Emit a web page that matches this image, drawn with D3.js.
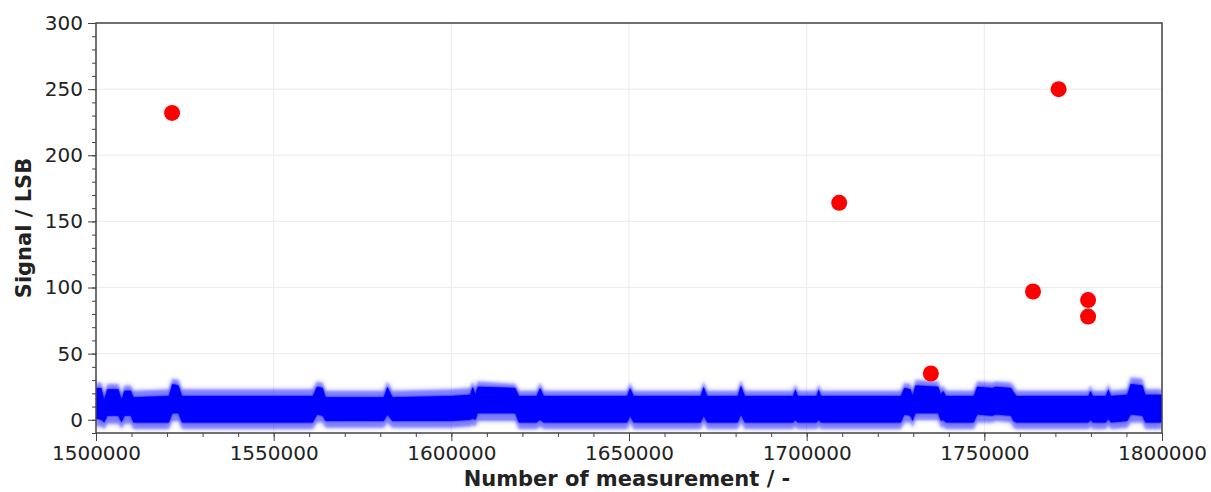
<!DOCTYPE html>
<html lang="en">
<head>
<meta charset="utf-8">
<title>Signal</title>
<script src="https://d3js.org/d3.v7.min.js"></script>
<style>
  body { margin: 0; background: #fff; }
  text { font-family: "DejaVu Sans", sans-serif; fill: #222; }
  .axis-label { font-weight: bold; font-size: 21px; }
</style>
</head>
<body>
<div id="chart"></div>
<script>
// noisy signal band, read as envelopes at breakpoints (measurement number)
var bandX = [1500000,1501500,1502300,1503200,1506300,1507200,1508000,1509800,1510500,1520500,1521500,1523200,1524200,
  1561000,1562200,1563800,1564600,1581000,1582000,1583400,1600000,1605300,1606000,1606800,1607400,1618000,1619000,
  1624000,1625000,1626000,1649500,1650300,1651300,1670200,1671000,1672000,1680600,1681500,1682600,1696200,1696800,
  1697500,1702800,1703400,1704000,1726500,1727500,1729200,1729800,1730600,1737000,1737800,1738400,1739200,1747000,
  1748000,1752300,1753200,1757500,1758200,1759000,1779300,1779900,1780500,1784200,1784900,1785600,1790200,1791200,
  1794500,1795300,1800000];
var bandHi = [28,28,20,27,27,20,26,26,22,23,31,30,23, 23,29,28,22,22,29,22,23,24,29,24,29,27,22,
  22,28,22,22,28,22,22,29,22,22,30,22,22,27, 22,22,27,22,22,28,27,22,30,29,23,26,22,22,
  29,28,29,28,26,22,22,26,22,22,27,22,23,32, 31,23,23];
var bandCoreHi = [24,24,15,23,23,15,22,22,17,18,27,26,18, 18,25,24,17,17,25,17,18,19,25,19,25,24,18,
  18,24,18,18,24,18,18,25,18,18,26,18,18,23, 18,18,23,18,18,24,23,18,26,25,19,22,18,18,
  25,24,25,24,21,18,18,22,18,18,23,18,19,27, 26,19,19];
var bandCoreLo = [1,0,-2,3,3,-2,3,3,-2,-2,5,5,-2, -2,4,3,-1,-1,4,-1,-1,0,1,0,5,5,-2,
  -2,0,-2,-2,3,-2,-2,3,-2,-2,4,-2,-2,0, -2,-2,0,-2,-2,4,3,-1,5,5,-1,0,-2,-2,
  4,3,4,3,-1,-2,-2,0,-2,-2,1,-2,-1,4, 3,-2,-2];
var bandLo = [-5,-5,-7,-3,-3,-7,-3,-3,-7,-7,-1,-1,-7, -7,-2,-2,-6,-6,-2,-6,-6,-5,-4,-5,-1,-1,-7,
  -7,-5,-7,-7,-2,-7,-7,-2,-7,-7,-2,-7,-7,-5, -7,-7,-5,-7,-7,-2,-2,-6,0,0,-6,-5,-7,-7,
  -2,-2,-1,-2,-6,-7,-7,-5,-7,-7,-4,-7,-6,-2, -2,-7,-7];

// outliers (red)
var outX = [1521400,1709150,1770900,1763700,1779200,1779200,1734950];
var outY = [232,164,250,97,90.5,78,35];

var xTicks = [1500000,1550000,1600000,1650000,1700000,1750000,1800000];
var yTicks = [0,50,100,150,200,250,300];

var W = 1211, H = 492;
var m = {left: 96, right: 49, top: 23, bottom: 59};
var pw = W - m.left - m.right, ph = H - m.top - m.bottom;

var svg = d3.select("#chart").append("svg")
  .attr("width", W).attr("height", H);

var x = d3.scaleLinear().domain([1500000, 1800000]).range([m.left, m.left + pw]);
var y = d3.scaleLinear().domain([-10, 300]).range([m.top + ph, m.top]);

svg.append("clipPath").attr("id", "plot")
  .append("rect").attr("x", m.left).attr("y", m.top).attr("width", pw).attr("height", ph);

// grid
var grid = svg.append("g").attr("stroke", "#ebebeb").attr("stroke-width", 1);
grid.selectAll(".gx").data(xTicks).enter().append("line")
  .attr("x1", d => x(d)).attr("x2", d => x(d)).attr("y1", m.top).attr("y2", m.top + ph);
grid.selectAll(".gy").data(yTicks).enter().append("line")
  .attr("x1", m.left).attr("x2", m.left + pw).attr("y1", d => y(d)).attr("y2", d => y(d));

var defs = svg.append("defs");
defs.append("filter").attr("id", "soft").attr("x", "-5%").attr("y", "-50%").attr("width", "110%").attr("height", "200%")
  .append("feGaussianBlur").attr("stdDeviation", 1.2);
defs.append("filter").attr("id", "fuzz").attr("x", "-5%").attr("y", "-50%").attr("width", "110%").attr("height", "200%")
  .append("feGaussianBlur").attr("stdDeviation", 2.5);

var band = bandX.map(function(d, i) {
  return {x: d, hi: bandHi[i], chi: bandCoreHi[i], clo: bandCoreLo[i], lo: bandLo[i]};
});

var outer = d3.area().x(d => x(d.x)).y0(d => y(d.lo)).y1(d => y(d.hi)).curve(d3.curveLinear);
var core = d3.area().x(d => x(d.x)).y0(d => y(d.clo)).y1(d => y(d.chi)).curve(d3.curveLinear);

var g = svg.append("g").attr("clip-path", "url(#plot)");
g.append("path").datum(band).attr("d", outer)
  .attr("fill", "#2020ff").attr("opacity", 0.35).attr("filter", "url(#fuzz)");
g.append("path").datum(band).attr("d", outer)
  .attr("fill", "#0000ff").attr("opacity", 0.3).attr("filter", "url(#soft)");
g.append("path").datum(band).attr("d", core)
  .attr("fill", "#0000ff").attr("filter", "url(#soft)");
g.append("path").datum(band).attr("d", core)
  .attr("fill", "#0000ff");

g.selectAll("circle").data(outX).enter().append("circle")
  .attr("cx", d => x(d)).attr("cy", (d, i) => y(outY[i])).attr("r", 8)
  .attr("fill", "#ff0000");

// axes
var xAxis = svg.append("g").attr("transform", "translate(0," + (m.top + ph) + ")")
  .call(d3.axisBottom(x).tickValues(xTicks).tickFormat(d3.format("d")).tickSize(8).tickPadding(5));
var xMinor = svg.append("g").attr("transform", "translate(0," + (m.top + ph) + ")")
  .call(d3.axisBottom(x).tickValues(d3.range(1500000, 1800001, 10000)).tickFormat("").tickSize(4));
var yAxis = svg.append("g").attr("transform", "translate(" + m.left + ",0)")
  .call(d3.axisLeft(y).tickValues(yTicks).tickSize(8).tickPadding(5));
var yMinor = svg.append("g").attr("transform", "translate(" + m.left + ",0)")
  .call(d3.axisLeft(y).tickValues(d3.range(-10, 301, 10)).tickFormat("").tickSize(4));

[xAxis, xMinor, yAxis, yMinor].forEach(function(a) {
  a.select(".domain").remove();
  a.selectAll("line").attr("stroke", "#444");
  a.selectAll("text").attr("font-size", "20px").attr("fill", "#222")
    .attr("font-family", "DejaVu Sans, sans-serif");
});

// frame
svg.append("rect").attr("x", m.left).attr("y", m.top).attr("width", pw).attr("height", ph)
  .attr("fill", "none").attr("stroke", "#444").attr("stroke-width", 1.5);

svg.append("text").attr("class", "axis-label")
  .attr("x", m.left + pw / 2 - 2).attr("y", 486).attr("text-anchor", "middle")
  .text("Number of measurement / -");
svg.append("text").attr("class", "axis-label")
  .attr("transform", "translate(31," + (m.top + ph / 2) + ") rotate(-90)")
  .attr("text-anchor", "middle")
  .text("Signal / LSB");
</script>
</body>
</html>
